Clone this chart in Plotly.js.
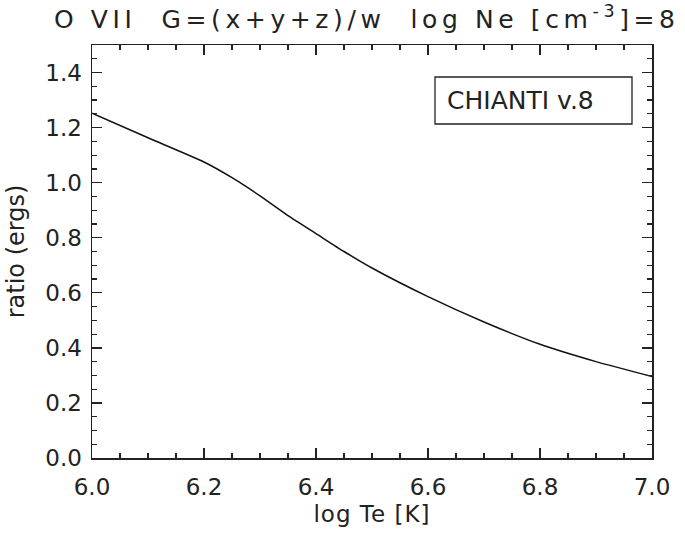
<!DOCTYPE html>
<html>
<head>
<meta charset="utf-8">
<script src="https://cdn.plot.ly/plotly-3.0.1.min.js"></script>
<style>html,body{margin:0;padding:0;background:#fff;}#chart{width:685px;height:534px;}</style>
</head>
<body>
<div id="chart"></div>
<script>
// log Te [K]
const logTe = [6.0, 6.1, 6.2, 6.25, 6.3, 6.35, 6.4, 6.45, 6.5, 6.6, 6.7, 6.8, 6.9, 7.0];
// G ratio (ergs)
const ratio = [1.252, 1.163, 1.075, 1.018, 0.952, 0.880, 0.815, 0.750, 0.690, 0.586, 0.494, 0.413, 0.350, 0.296];

const titleText = 'O VII  G=(x+y+z)/w  log Ne [cm<sup>-3</sup>]=8';
const xTitle = 'log Te [K]';
const yTitle = 'ratio (ergs)';
const legendText = 'CHIANTI v.8';

const fontFam = 'DejaVu Sans, Verdana, sans-serif';
const ink = '#222';

const axisCommon = {
  showgrid: false, zeroline: false,
  showline: true, linecolor: ink, linewidth: 1.5, mirror: 'allticks',
  ticks: 'inside', ticklen: 10, tickwidth: 1.3, tickcolor: ink,
  tickfont: {family: fontFam, size: 23, color: ink},
  dtick: 0.2, tickformat: '.1f',
  minor: {dtick: 0.05, ticks: 'inside', ticklen: 5, tickwidth: 1.2, tickcolor: ink}
};

const data = [{
  x: logTe, y: ratio, type: 'scatter', mode: 'lines',
  line: {color: '#111', width: 1.5, shape: 'spline', smoothing: 0.6}, showlegend: false
}];

const layout = {
  width: 685, height: 534,
  margin: {l: 92, r: 33, t: 45, b: 76},
  paper_bgcolor: '#fff', plot_bgcolor: '#fff',
  title: {text: titleText, font: {family: fontFam, size: 25, color: ink},
          x: 54/685, xref: 'container', xanchor: 'left', y: 1 - 19/534, yanchor: 'middle'},
  xaxis: Object.assign({}, axisCommon, {range: [6.0, 7.0], ticklabelstandoff: 8,
    title: {text: xTitle, font: {family: fontFam, size: 23, color: ink}, standoff: 7}}),
  yaxis: Object.assign({}, axisCommon, {range: [0, 1.5], ticklabelstandoff: 4,
    title: {text: yTitle, font: {family: fontFam, size: 24, color: ink}, standoff: 14}}),
  shapes: [{type: 'rect', xref: 'paper', yref: 'paper',
    x0: (435-92)/560, x1: (632-92)/560, y0: (458-124)/413, y1: (458-77)/413,
    line: {color: ink, width: 1.3}}],
  annotations: [{text: legendText, xref: 'paper', yref: 'paper',
    x: (445-92)/560, xanchor: 'left', y: (458-100.5)/413, yanchor: 'middle',
    showarrow: false, font: {family: fontFam, size: 25, color: ink}}]
};

Plotly.newPlot('chart', data, layout, {displayModeBar: false, staticPlot: true}).then(function (gd) {
  // the reference's vector font is much more widely spaced than any installed font
  const t = gd.querySelector('.gtitle');
  if (t) t.style.letterSpacing = '4.6px';
  const xt = gd.querySelector('.xtitle');
  if (xt) xt.style.letterSpacing = '1px';
});
</script>
</body>
</html>
